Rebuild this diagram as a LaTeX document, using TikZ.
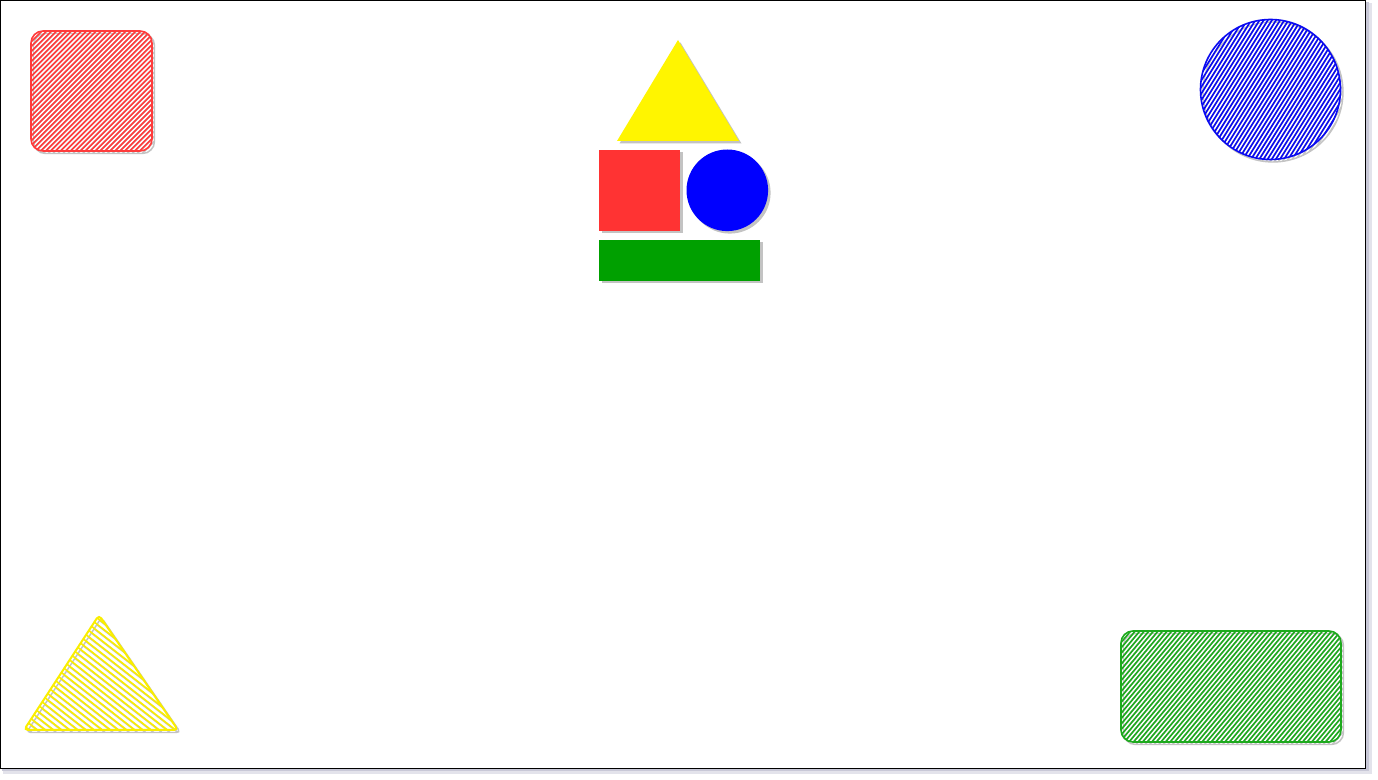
\documentclass[tikz,border=0pt]{standalone}

\definecolor{boxred}{RGB}{255,51,51}
\definecolor{sunyellow}{RGB}{255,245,0}
\definecolor{ballblue}{RGB}{0,0,255}
\definecolor{bargreen}{RGB}{0,160,0}
\definecolor{sketchred}{RGB}{255,60,60}
\definecolor{sketchyellow}{RGB}{250,238,0}
\definecolor{sketchblue}{RGB}{10,10,240}
\definecolor{sketchgreen}{RGB}{30,170,30}
\definecolor{shadowgray}{RGB}{195,195,195}
\definecolor{frameshadow}{RGB}{200,200,215}

% hatch lines round the origin of the current scope
\newcommand{\hatch}[3]{% angle, colour, gap
  \pgfmathsetmacro{\hsec}{-130+#3}
  \foreach \k in {-130,\hsec,...,130}
    \draw[#2,line width=0.8pt,rotate=#1] (-130,\k) -- (130,\k);
}
\newcommand{\shd}{2.5}

\begin{document}
\begin{tikzpicture}[x=0.5pt,y=-0.5pt]
  \useasboundingbox (0,0) rectangle (1378,780);
  % frame
  \fill[frameshadow!50] (3,3) rectangle (1372,774);
  \fill[frameshadow] (2,2) rectangle (1369,771);
  \draw[fill=white,line width=0.6pt] (0.5,0.5) rectangle (1365.7,768.3);
%
  % solid shapes in the middle
  \fill[shadowgray] (617+\shd,141+\shd) -- (678+\shd,40+\shd) -- (739+\shd,141+\shd) -- cycle;
  \fill[sunyellow]  (617,141) -- (678,40) -- (739,141) -- cycle;
  \fill[shadowgray] (599+\shd,150+\shd) rectangle (680+\shd,231+\shd);
  \fill[boxred]     (599,150) rectangle (680,231);
  \fill[shadowgray] (727.3+\shd,190.3+\shd) circle (40.8);
  \fill[ballblue]   (727.3,190.3) circle (40.8);
  \fill[shadowgray] (599+\shd,240+\shd) rectangle (760+\shd,281+\shd);
  \fill[bargreen]   (599,240) rectangle (760,281);
%
  % sketched square
  \begin{scope}[shift={(\shd,\shd)}]
    \begin{scope}
      \clip[rounded corners=6pt] (31,31) rectangle (152,151);
      \begin{scope}[shift={(91.5,91)}] \hatch{45}{shadowgray}{3.5} \end{scope}
    \end{scope}
    \draw[shadowgray,line width=0.7pt,rounded corners=6pt] (31,31) rectangle (152,151);
  \end{scope}
  \begin{scope}
    \clip[rounded corners=6pt] (31,31) rectangle (152,151);
    \begin{scope}[shift={(91.5,91)}] \hatch{45}{sketchred}{3.5} \end{scope}
  \end{scope}
  \draw[sketchred,line width=0.8pt,rounded corners=6pt] (31,31) rectangle (152,151);
%
  % sketched circle
  \begin{scope}[shift={(\shd,\shd)}]
    \begin{scope}
      \clip (1270.5,89.5) circle (70);
      \begin{scope}[shift={(1270.5,89.5)}] \hatch{58}{shadowgray}{3.5} \end{scope}
    \end{scope}
    \draw[shadowgray,line width=0.7pt] (1270.5,89.5) circle (70);
  \end{scope}
  \begin{scope}
    \clip (1270.5,89.5) circle (70);
    \begin{scope}[shift={(1270.5,89.5)}] \hatch{58}{sketchblue}{3.5} \end{scope}
  \end{scope}
  \draw[sketchblue,line width=0.8pt] (1270.5,89.5) circle (70);
%
  % sketched triangle
  \begin{scope}[shift={(\shd,\shd)}]
    \begin{scope}
      \clip (99,615) -- (24,730) -- (178,730) -- cycle;
      \begin{scope}[shift={(100,690)}] \hatch{-38}{shadowgray}{5} \end{scope}
    \end{scope}
    \draw[shadowgray,line width=0.7pt,rounded corners=2pt] (99,615) -- (24,730) -- (178,730) -- cycle;
  \end{scope}
  \begin{scope}
    \clip (99,615) -- (24,730) -- (178,730) -- cycle;
    \begin{scope}[shift={(100,690)}] \hatch{-38}{sketchyellow}{5} \end{scope}
  \end{scope}
  \draw[sketchyellow,line width=1pt,rounded corners=2pt] (99,615) -- (24,730) -- (178,730) -- cycle;
%
  % sketched bar
  \begin{scope}[shift={(\shd,\shd)}]
    \begin{scope}
      \clip[rounded corners=6pt] (1121,631) rectangle (1341,742);
      \begin{scope}[shift={(1231,686.5)}] \hatch{50}{shadowgray}{3.5} \end{scope}
    \end{scope}
    \draw[shadowgray,line width=0.7pt,rounded corners=6pt] (1121,631) rectangle (1341,742);
  \end{scope}
  \begin{scope}
    \clip[rounded corners=6pt] (1121,631) rectangle (1341,742);
    \begin{scope}[shift={(1231,686.5)}] \hatch{50}{sketchgreen}{3.5} \end{scope}
  \end{scope}
  \draw[sketchgreen,line width=0.8pt,rounded corners=6pt] (1121,631) rectangle (1341,742);
\end{tikzpicture}
\end{document}
